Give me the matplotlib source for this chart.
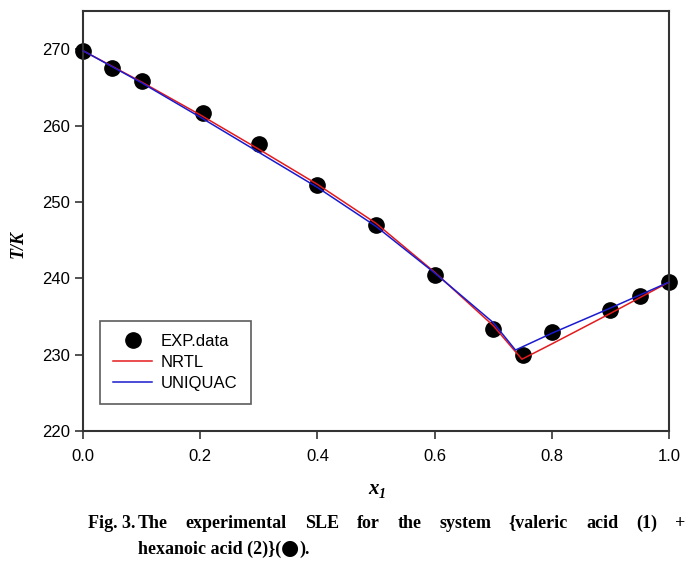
import numpy as np
import matplotlib
matplotlib.use("Agg")
from matplotlib import pyplot as plt

# experimental SLE data
x_exp = [0.0, 0.05, 0.10, 0.205, 0.30, 0.40, 0.50, 0.60, 0.70, 0.75, 0.80, 0.90, 0.95, 1.0]
T_exp = [269.8, 267.5, 265.8, 261.7, 257.6, 252.2, 247.0, 240.4, 233.4, 229.9, 233.0, 235.8, 237.7, 239.5]

# model curves
x_nrtl = [0.0, 0.1, 0.2, 0.3, 0.4, 0.5, 0.6, 0.7, 0.749, 0.8, 0.9, 1.0]
T_nrtl = [269.8, 265.7, 261.4, 256.9, 252.3, 247.2, 240.8, 233.8, 229.4, 231.4, 235.4, 239.5]
x_uniq = [0.0, 0.1, 0.2, 0.3, 0.4, 0.5, 0.6, 0.7, 0.738, 0.8, 0.9, 1.0]
T_uniq = [269.8, 265.6, 261.1, 256.5, 251.9, 246.8, 240.7, 234.2, 230.6, 232.8, 236.1, 239.5]

xticks = [0.0, 0.2, 0.4, 0.6, 0.8, 1.0]
yticks = [220, 230, 240, 250, 260, 270]

def main():
    plt.rcParams['font.family'] = ['Liberation Sans', 'DejaVu Sans']
    fig = plt.figure(figsize=(6.99, 5.71), dpi=100)
    ax = fig.add_axes([83/699, 140/571, 586/699, 420/571])

    ax.plot(x_nrtl, T_nrtl, color='#e41a1c', lw=1.1, label='NRTL', zorder=3)
    ax.plot(x_uniq, T_uniq, color='#1a1ad0', lw=1.1, label='UNIQUAC', zorder=3)
    ax.plot(x_exp, T_exp, 'o', color='black', ms=11, label='EXP.data', zorder=2,
            clip_on=False)

    ax.set_xlim(0, 1.0)
    ax.set_ylim(220, 275)
    ax.set_xticks(xticks)
    ax.set_xticklabels(['%.1f' % v for v in xticks])
    ax.set_yticks(yticks)
    ax.tick_params(direction='out', length=6, width=1.2, labelsize=12, color='#333333')
    ax.tick_params(axis='x', pad=7)
    for s in ax.spines.values():
        s.set_linewidth(1.5)
        s.set_color('#333333')

    h, l = ax.get_legend_handles_labels()
    order = [2, 0, 1]
    leg = ax.legend([h[i] for i in order], [l[i] for i in order],
                    loc='lower left', bbox_to_anchor=(17/586, 27/420),
                    borderaxespad=0, fontsize=12, frameon=True, fancybox=False,
                    edgecolor='#333333', handlelength=2.3, borderpad=0.8,
                    labelspacing=0.35, handletextpad=0.55)
    leg.get_frame().set_linewidth(1.2)

    serif = ['Liberation Serif', 'DejaVu Serif']
    fig.text(18/699, 1 - 244/571, 'T/K', rotation=90, ha='center', va='center',
             fontsize=13, fontweight='bold', fontstyle='italic', family=serif)
    fig.text(368/699, 1 - 489/571, 'x', ha='left', va='center', fontsize=15,
             fontweight='bold', fontstyle='italic', family=serif)
    fig.text(379/699, 1 - 494/571, '1', ha='left', va='center', fontsize=10,
             fontweight='bold', fontstyle='italic', family=serif)

    # justified caption line 1
    words = ['Fig. 3.', 'The', 'experimental', 'SLE', 'for', 'the', 'system',
             '{valeric', 'acid', '(1)', '+']
    fig.canvas.draw()
    r = fig.canvas.get_renderer()
    ts = []
    for w in words:
        t = fig.text(0, 1 - 523/571, w, fontsize=13, fontweight='bold', family=serif,
                     va='center', ha='left')
        ts.append(t)
    widths = [t.get_window_extent(r).width for t in ts]
    rest = (685.0 - 138.0) - sum(widths[1:])
    gap = rest / (len(words) - 2)
    ts[0].set_x(88.0 / 699)
    pos = 138.0
    for t, w in zip(ts[1:], widths[1:]):
        t.set_x(pos / 699)
        pos += w + gap

    t2 = fig.text(138/699, 1 - 549/571, 'hexanoic acid (2)}(', fontsize=13,
                  fontweight='bold', family=serif, va='center', ha='left')
    wt = t2.get_window_extent(r).width
    t3 = fig.text((138 + wt) / 699, 1 - 548/571, '\u25cf', fontsize=15,
                  family=['DejaVu Sans'], va='center', ha='left')
    wd = t3.get_window_extent(r).width
    fig.text((138 + wt + wd) / 699, 1 - 549/571, ').', fontsize=13,
             fontweight='bold', family=serif, va='center', ha='left')

    fig.savefig('out.png', dpi=100)

if __name__ == "__main__":
    main()
